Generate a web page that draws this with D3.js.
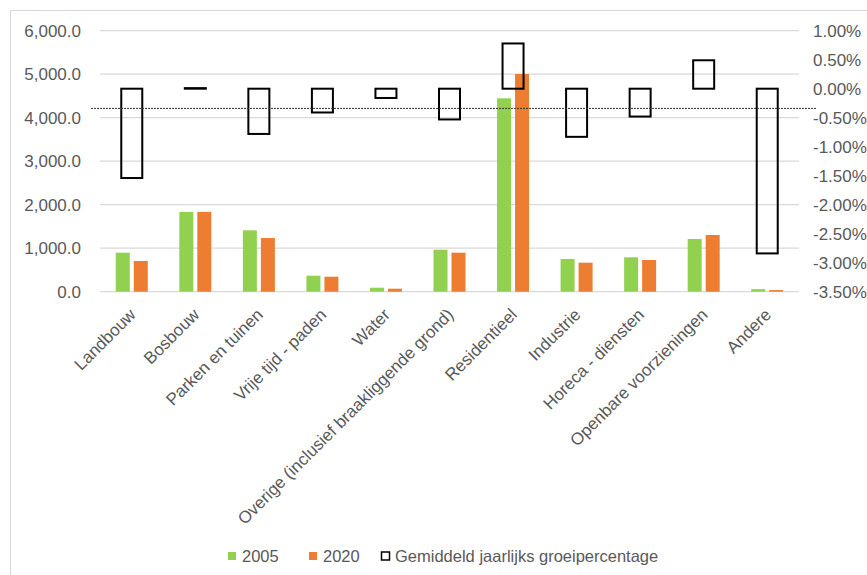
<!DOCTYPE html>
<html>
<head>
<meta charset="utf-8">
<script src="https://cdn.jsdelivr.net/npm/d3@7/dist/d3.min.js"></script>
<style>
  html, body { margin: 0; padding: 0; background: #fff; }
  svg { display: block; font-family: "Liberation Sans", Arial, sans-serif; }
</style>
</head>
<body>
<svg id="chart" width="867" height="575"></svg>
<script>
// Land use per category (area), 2005 vs 2020, plus average annual growth rate
const categories = [
  "Landbouw", "Bosbouw", "Parken en tuinen", "Vrije tijd - paden", "Water",
  "Overige (inclusief braakliggende grond)", "Residentieel", "Industrie",
  "Horeca - diensten", "Openbare voorzieningen", "Andere"
];
const values2005 = [897, 1832, 1411, 368, 92, 966, 4446, 752, 791, 1211, 58];
const values2020 = [706, 1835, 1234, 345, 69, 897, 5005, 667, 729, 1303, 38];
const growthRate = [-1.54, 0.01, -0.78, -0.41, -0.16, -0.53, 0.78, -0.83, -0.48, 0.49, -2.84];
const averageGrowth = -0.34;

const leftTicks = [0, 1000, 2000, 3000, 4000, 5000, 6000];
const rightTicks = [1.0, 0.5, 0.0, -0.5, -1.0, -1.5, -2.0, -2.5, -3.0, -3.5];

const seriesNames = ["2005", "2020", "Gemiddeld jaarlijks groeipercentage"];
const colors = { y2005: "#92d050", y2020: "#ed7d31", grid: "#d9d9d9", text: "#595959" };

const svg = d3.select("#chart");
const plot = { left: 100, right: 799, top: 30.7, bottom: 291.7 };

// frame around the chart
svg.append("rect")
  .attr("x", 10.5).attr("y", 10.5)
  .attr("width", 880).attr("height", 600)
  .attr("fill", "none").attr("stroke", "#d9d9d9").attr("stroke-width", 1);

const x = d3.scaleBand().domain(categories).range([plot.left, plot.right]).padding(0);
const yLeft = d3.scaleLinear().domain([0, 6000]).range([plot.bottom, plot.top]);
const yRight = d3.scaleLinear().domain([-3.5, 1.0]).range([plot.bottom, plot.top]);

// gridlines (left axis)
svg.append("g").selectAll("line").data(leftTicks).join("line")
  .attr("x1", plot.left).attr("x2", plot.right)
  .attr("y1", d => yLeft(d)).attr("y2", d => yLeft(d))
  .attr("stroke", colors.grid).attr("stroke-width", 1.3);

// left axis labels
const fmtLeft = d3.format(",.1f");
const leftAxis = d3.axisLeft(yLeft).tickValues(leftTicks).tickFormat(fmtLeft).tickSize(0).tickPadding(0);
const gL = svg.append("g").attr("transform", "translate(81,0)").call(leftAxis);
gL.select(".domain").remove();
gL.selectAll("text").attr("fill", colors.text).style("font-size", "17px")
  .attr("font-family", "Liberation Sans, Arial, sans-serif");

// right axis labels
const fmtRight = d => d3.format(".2f")(d).replace("−", "-") + "%";
const rightAxis = d3.axisRight(yRight).tickValues(rightTicks).tickFormat(fmtRight).tickSize(0).tickPadding(0);
const gR = svg.append("g").attr("transform", "translate(813,0)").call(rightAxis);
gR.select(".domain").remove();
gR.selectAll("text").attr("fill", colors.text).style("font-size", "17px")
  .attr("font-family", "Liberation Sans, Arial, sans-serif");

// grouped bars
const barW = 14, gap = 4;
const bars = svg.append("g");
bars.selectAll("rect.b2005").data(categories).join("rect")
  .attr("class", "b2005")
  .attr("x", d => x(d) + x.bandwidth() / 2 - gap / 2 - barW)
  .attr("width", barW)
  .attr("y", (d, i) => yLeft(values2005[i]))
  .attr("height", (d, i) => yLeft(0) - yLeft(values2005[i]))
  .attr("fill", colors.y2005);
bars.selectAll("rect.b2020").data(categories).join("rect")
  .attr("class", "b2020")
  .attr("x", d => x(d) + x.bandwidth() / 2 + gap / 2)
  .attr("width", barW)
  .attr("y", (d, i) => yLeft(values2020[i]))
  .attr("height", (d, i) => yLeft(0) - yLeft(values2020[i]))
  .attr("fill", colors.y2020);

// growth rate as outlined floating bars on the secondary axis
const boxW = 21;
svg.append("g").selectAll("rect").data(categories).join("rect")
  .attr("x", d => x(d) + x.bandwidth() / 2 - boxW / 2)
  .attr("width", boxW)
  .attr("y", (d, i) => Math.min(yRight(0), yRight(growthRate[i])))
  .attr("height", (d, i) => Math.abs(yRight(0) - yRight(growthRate[i])))
  .attr("fill", "none").attr("stroke", "#000").attr("stroke-width", 2);

// average growth reference line
svg.append("line")
  .attr("x1", plot.left - 9).attr("x2", plot.right + 18)
  .attr("y1", yRight(averageGrowth)).attr("y2", yRight(averageGrowth))
  .attr("stroke", "#333").attr("stroke-width", 1).attr("stroke-dasharray", "2,1");

// rotated category labels
svg.append("g").selectAll("text").data(categories).join("text")
  .attr("transform", d => `translate(${x(d) + x.bandwidth() / 2 + 5},${plot.bottom + 24}) rotate(-45)`)
  .attr("text-anchor", "end")
  .attr("fill", colors.text)
  .style("font-size", "17px")
  .text(d => d);

// legend
const legend = svg.append("g").attr("transform", "translate(0,562)");
const legendItems = [
  { name: seriesNames[0], x: 228, fill: colors.y2005, stroke: "none" },
  { name: seriesNames[1], x: 309, fill: colors.y2020, stroke: "none" },
  { name: seriesNames[2], x: 381, fill: "#fff", stroke: "#000" }
];
legendItems.forEach(it => {
  legend.append("rect")
    .attr("x", it.stroke === "none" ? it.x : it.x + 0.5)
    .attr("y", -10)
    .attr("width", 8)
    .attr("height", 8)
    .attr("fill", it.fill).attr("stroke", it.stroke).attr("stroke-width", 1.5);
  legend.append("text")
    .attr("x", it.x + 14).attr("y", 0)
    .attr("fill", colors.text).style("font-size", "16.5px")
    .text(it.name);
});
</script>
</body>
</html>
